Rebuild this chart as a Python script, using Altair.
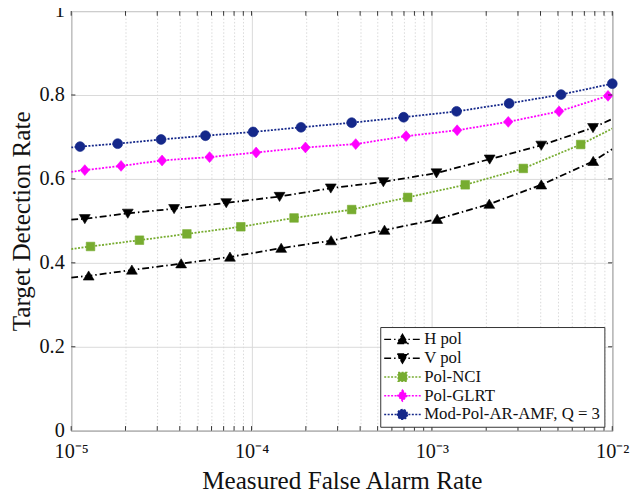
import altair as alt
import pandas as pd

# ---------------- data ----------------
series = ["H pol", "V pol", "Pol-NCI", "Pol-GLRT", "Mod-Pol-AR-AMF, Q = 3"]
colors = ["#000000", "#000000", "#77ac30", "#ff00ff", "#15288a"]

h_x = [1.25e-5, 2.17e-5, 4.07e-5, 7.59e-5, 1.46e-4, 2.76e-4, 5.46e-4, 1.07e-3, 2.08e-3, 4.04e-3, 7.84e-3]
h_y = [0.369, 0.383, 0.398, 0.414, 0.435, 0.453, 0.478, 0.504, 0.540, 0.586, 0.642]
v_x = [1.19e-5, 2.06e-5, 3.72e-5, 7.24e-5, 1.43e-4, 2.75e-4, 5.38e-4, 1.06e-3, 2.09e-3, 4.04e-3, 7.82e-3]
v_y = [0.505, 0.518, 0.529, 0.543, 0.558, 0.578, 0.593, 0.614, 0.647, 0.680, 0.722]
nci_x = [1.28e-5, 2.39e-5, 4.38e-5, 8.72e-5, 1.72e-4, 3.59e-4, 7.34e-4, 1.53e-3, 3.21e-3, 6.68e-3]
nci_y = [0.439, 0.454, 0.469, 0.486, 0.507, 0.527, 0.556, 0.586, 0.625, 0.682]
glrt_x = [1.19e-5, 1.89e-5, 3.19e-5, 5.85e-5, 1.06e-4, 1.99e-4, 3.78e-4, 7.19e-4, 1.38e-3, 2.65e-3, 5.07e-3, 9.47e-3]
glrt_y = [0.621, 0.631, 0.644, 0.652, 0.663, 0.675, 0.683, 0.702, 0.716, 0.736, 0.761, 0.798]
amf_x = [1.12e-5, 1.81e-5, 3.15e-5, 5.55e-5, 1.02e-4, 1.88e-4, 3.59e-4, 6.97e-4, 1.37e-3, 2.68e-3, 5.20e-3, 1.0e-2]
amf_y = [0.677, 0.684, 0.694, 0.703, 0.712, 0.723, 0.734, 0.747, 0.761, 0.780, 0.801, 0.827]

# curve values at the two ends of the x range (lines run edge to edge)
x_start = 1e-5
x_end = 1e-2
y_start = [0.365, 0.503, 0.433, 0.617, 0.675]
y_end = [0.671, 0.743, 0.720, 0.801, 0.827]

major_x = [1e-5, 1e-4, 1e-3, 1e-2]
minor_x = [m * 10.0 ** e for e in (-5, -4, -3) for m in range(2, 10)]
y_ticks = [0, 0.2, 0.4, 0.6, 0.8, 1]

mark_xs = [h_x, v_x, nci_x, glrt_x, amf_x]
mark_ys = [h_y, v_y, nci_y, glrt_y, amf_y]

# ---------------- styles ----------------
FONT = "Liberation Serif"
dashes = [[7, 3, 1.5, 3], [7, 3, 1.5, 3], [2, 1.5], [2, 1.5], [2, 1.5]]
marker_paths = [
    "M0,-1 L1.1,0.85 L-1.1,0.85 Z",
    "M0,1 L1.1,-0.85 L-1.1,-0.85 Z",
    "M-0.87,-0.87 L0.87,-0.87 L0.87,0.87 L-0.87,0.87 Z",
    "M0,-1.1 L0.95,0 L0,1.1 L-0.95,0 Z",
    "M1,0 A1,1 0 1,1 -1,0 A1,1 0 1,1 1,0 Z",
]
legend_paths = ["M-3.7,0 L3.7,0 " + p for p in marker_paths]

# ---------------- tables ----------------
mark_rows, line_rows = [], []
for s, xs, ys, y0, y1 in zip(series, mark_xs, mark_ys, y_start, y_end):
    line_rows.append({"series": s, "far": x_start, "pd": y0})
    for xv, yv in zip(xs, ys):
        mark_rows.append({"series": s, "far": xv, "pd": yv})
        line_rows.append({"series": s, "far": xv, "pd": yv})
    if xs[-1] < x_end:
        line_rows.append({"series": s, "far": x_end, "pd": y1})
marks_df = pd.DataFrame(mark_rows)
lines_df = pd.DataFrame(line_rows)
legend_df = marks_df.groupby("series", sort=False).head(1)

major_test = "abs(log(datum.value)/LN10 - round(log(datum.value)/LN10)) < 0.001"
exp_sup = ("round(log(datum.value)/LN10) == -5 ? '⁻⁵' : "
           "round(log(datum.value)/LN10) == -4 ? '⁻⁴' : "
           "round(log(datum.value)/LN10) == -3 ? '⁻³' : '⁻²'")

x_enc = alt.X(
    "far:Q",
    scale=alt.Scale(type="log", domain=[1e-5, 1e-2], nice=False),
    axis=alt.Axis(
        values=sorted(major_x + minor_x),
        title="Measured False Alarm Rate",
        grid=True,
        gridColor="#d9d9d9",
        gridWidth=1,
        gridDash={"condition": {"test": major_test, "value": []}, "value": [1.5, 2]},
        ticks=False,
        domain=False,
        labelExpr=f"{major_test} ? '10' + ({exp_sup}) : ''",
        labelOverlap=False,
        labelFlush=False,
        labelPadding=11,
        titlePadding=7,
    ),
)
y_enc = alt.Y(
    "pd:Q",
    scale=alt.Scale(domain=[0, 1], nice=False),
    axis=alt.Axis(
        values=y_ticks,
        format="~g",
        title="Target Detection Rate",
        grid=True,
        gridColor="#d9d9d9",
        ticks=False,
        domain=False,
        labelPadding=7,
        titlePadding=5,
    ),
)

layers = []
for s, c, d, p in zip(series, colors, dashes, marker_paths):
    base_l = alt.Chart(lines_df).transform_filter(alt.datum.series == s)
    base_m = alt.Chart(marks_df).transform_filter(alt.datum.series == s)
    layers.append(base_l.mark_line(color=c, strokeDash=d, strokeWidth=1.8, clip=True)
                  .encode(x=x_enc, y=y_enc))
    layers.append(base_m.mark_point(shape=p, filled=True, fill=c, stroke=c, strokeWidth=0.6,
                                    size=100, opacity=1)
                  .encode(x="far:Q", y="pd:Q"))

# inward tick marks (MATLAB style)
xt_df = pd.DataFrame({"t": sorted(major_x + minor_x)})
yt_df = pd.DataFrame({"t": y_ticks[1:-1]})
tick_col = "#333333"
layers.append(alt.Chart(xt_df).mark_rule(color=tick_col, strokeWidth=1)
              .encode(x="t:Q", y=alt.datum(0), y2=alt.datum(0.011)))
layers.append(alt.Chart(xt_df).mark_rule(color=tick_col, strokeWidth=1)
              .encode(x="t:Q", y=alt.datum(1), y2=alt.datum(0.989)))
layers.append(alt.Chart(yt_df).mark_rule(color=tick_col, strokeWidth=1)
              .encode(y="t:Q", x=alt.datum(1e-5), x2=alt.datum(1.055e-5)))
layers.append(alt.Chart(yt_df).mark_rule(color=tick_col, strokeWidth=1)
              .encode(y="t:Q", x=alt.datum(1e-2), x2=alt.datum(0.948e-2)))

# legend driver (invisible marks, legend built from shared series scales)
leg = alt.Legend(
    title=None,
    orient="none",
    legendX=313,
    legendY=320,
    fillColor="white",
    strokeColor="#333333",
    padding=4,
    labelFont=FONT,
    labelFontSize=17,
    labelColor="#111111",
    labelLimit=400,
    symbolSize=100,
    symbolStrokeWidth=1.5,
    symbolOpacity=1,
    symbolOffset=10,
    labelOffset=13.5,
    rowPadding=1,
)
legend_layer = alt.Chart(legend_df).mark_point(filled=True, opacity=0, size=100).encode(
    x="far:Q",
    y="pd:Q",
    fill=alt.Fill("series:N", scale=alt.Scale(domain=series, range=colors), legend=leg, sort=series),
    stroke=alt.Stroke("series:N", scale=alt.Scale(domain=series, range=colors), legend=leg, sort=series),
    shape=alt.Shape("series:N", scale=alt.Scale(domain=series, range=legend_paths), legend=leg, sort=series),
    strokeDash=alt.StrokeDash("series:N", scale=alt.Scale(domain=series, range=dashes), legend=leg, sort=series),
)
layers.append(legend_layer)

chart = alt.layer(*layers).properties(
    width=548,
    height=425,
    autosize=alt.AutoSizeParams(type="none"),
    padding={"left": 64, "top": 0, "right": 22, "bottom": 62},
).configure_view(
    stroke="#333333", strokeWidth=1
).configure_axis(
    labelFont=FONT, labelFontSize=20.5, labelColor="#111111",
    titleFont=FONT, titleFontSize=25.5, titleFontWeight="normal", titleColor="#111111",
)

chart.save("out.html", embed_options={"renderer": "svg", "actions": False})
